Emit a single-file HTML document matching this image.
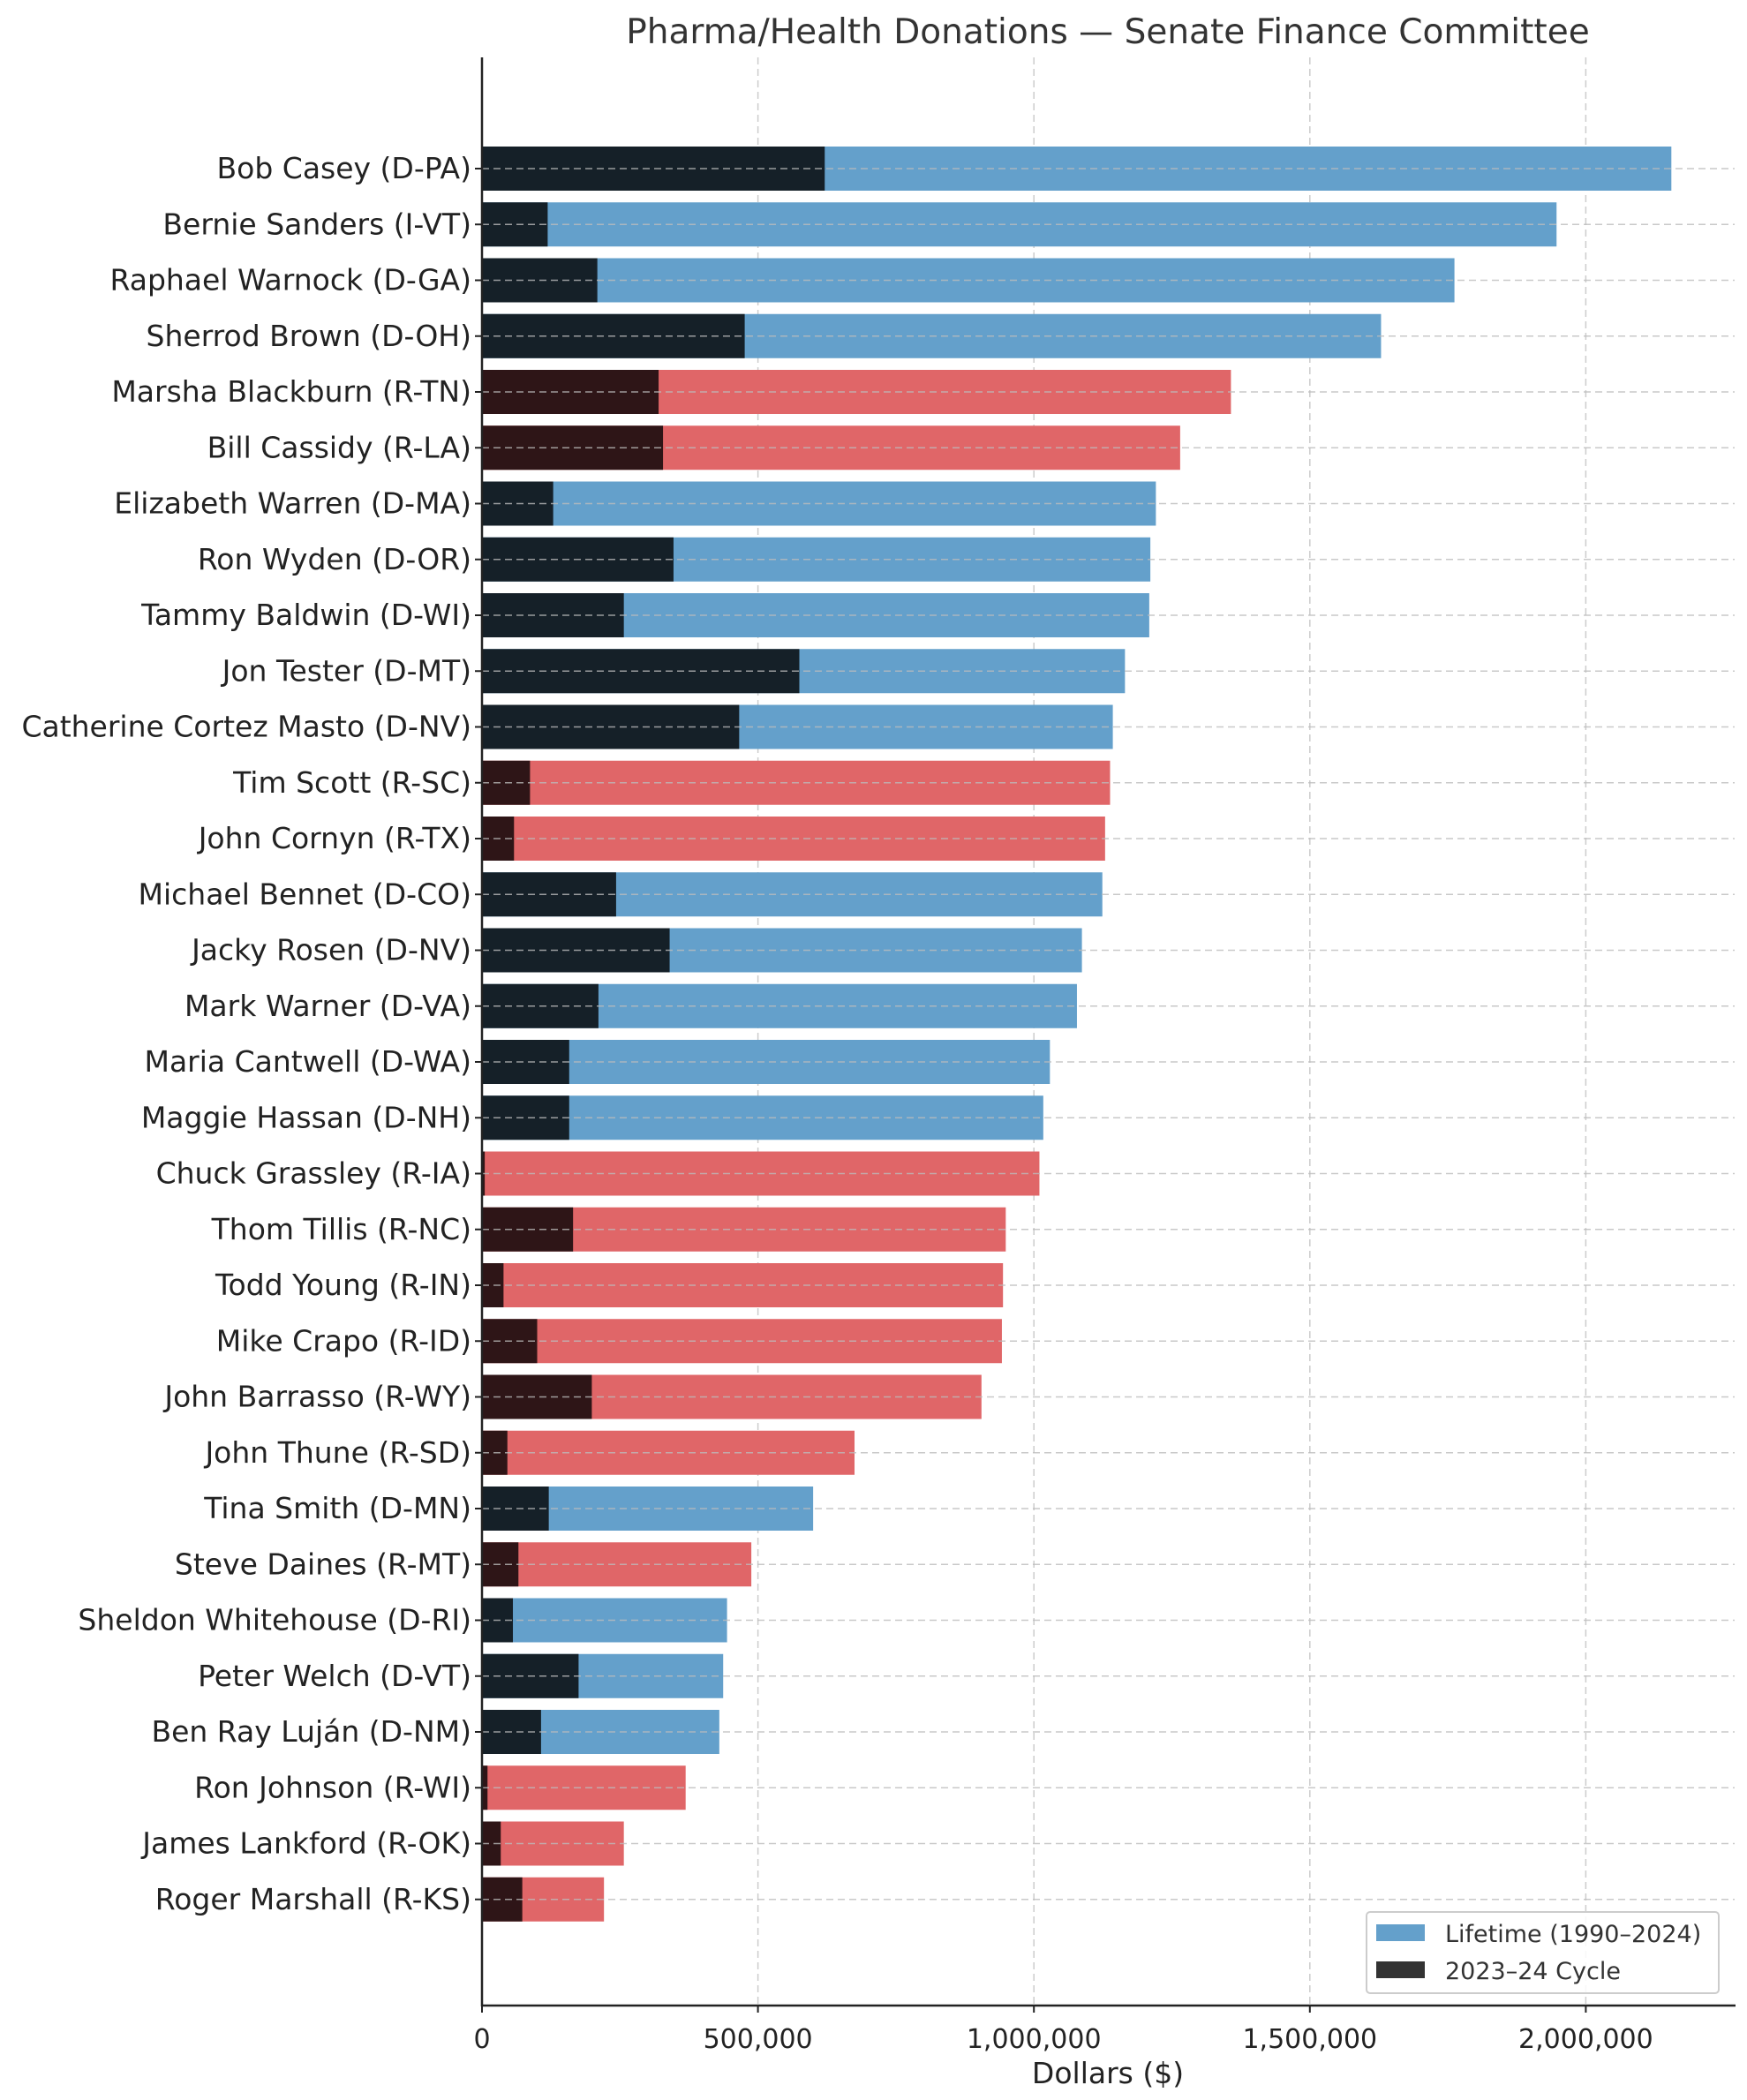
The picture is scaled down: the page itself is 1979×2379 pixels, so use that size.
<!DOCTYPE html>
<html><head><meta charset="utf-8"><style>
html,body{margin:0;padding:0;background:#fff;}
svg{display:block;font-family:"DejaVu Sans","Liberation Sans",sans-serif;}
</style></head><body>
<svg id="chart" width="1979" height="2379" viewBox="0 0 1979 2379" xmlns="http://www.w3.org/2000/svg">
<rect width="1979" height="2379" fill="#fff"/>
<text x="1255" y="49" text-anchor="middle" font-size="39" fill="#333">Pharma/Health Donations — Senate Finance Committee</text>
<g id="grid"></g>
<g id="bars"></g>
<g id="hgrid"></g>
<g id="axes"></g>
<g>
<rect x="1548" y="2166" width="399" height="92" rx="4" fill="#fff" fill-opacity="0.85" stroke="#ccc" stroke-width="2"/>
<rect x="1559" y="2180" width="55" height="19" fill="#64a0cb"/>
<text x="1637" y="2200" font-size="27" fill="#333">Lifetime (1990–2024)</text>
<rect x="1559" y="2222" width="55" height="19" fill="#333"/>
<text x="1637" y="2242" font-size="27" fill="#333">2023–24 Cycle</text>
</g>
</svg>
<script>
const names = ["Bob Casey (D-PA)","Bernie Sanders (I-VT)","Raphael Warnock (D-GA)","Sherrod Brown (D-OH)","Marsha Blackburn (R-TN)","Bill Cassidy (R-LA)","Elizabeth Warren (D-MA)","Ron Wyden (D-OR)","Tammy Baldwin (D-WI)","Jon Tester (D-MT)","Catherine Cortez Masto (D-NV)","Tim Scott (R-SC)","John Cornyn (R-TX)","Michael Bennet (D-CO)","Jacky Rosen (D-NV)","Mark Warner (D-VA)","Maria Cantwell (D-WA)","Maggie Hassan (D-NH)","Chuck Grassley (R-IA)","Thom Tillis (R-NC)","Todd Young (R-IN)","Mike Crapo (R-ID)","John Barrasso (R-WY)","John Thune (R-SD)","Tina Smith (D-MN)","Steve Daines (R-MT)","Sheldon Whitehouse (D-RI)","Peter Welch (D-VT)","Ben Ray Luján (D-NM)","Ron Johnson (R-WI)","James Lankford (R-OK)","Roger Marshall (R-KS)"];
const lifetime = [2155000,1947000,1762000,1629000,1357000,1265000,1221000,1211000,1209000,1165000,1143000,1138000,1129000,1124000,1087000,1078000,1029000,1017000,1010000,949000,944000,942000,905000,675000,600000,488000,444000,437000,430000,369000,257000,221000];
const cycle = [621000,119000,209000,476000,320000,328000,129000,347000,257000,575000,466000,87000,58000,243000,340000,211000,158000,158000,5000,165000,39000,100000,199000,46000,121000,66000,56000,175000,107000,10000,34000,73000];
const xTicks = [0,500000,1000000,1500000,2000000];
const xTickLabels = ["0","500,000","1,000,000","1,500,000","2,000,000"];

const NS="http://www.w3.org/2000/svg";
const X0=546, PXPER=312.6/500000, Y0=191, STEP=63.25, BH=50;
const xs=v=>X0+v*PXPER;
const ys=i=>Y0+i*STEP;
function mk(tag,attrs,parent){const e=document.createElementNS(NS,tag);for(const k in attrs)e.setAttribute(k,attrs[k]);parent.appendChild(e);return e;}
const grid=document.getElementById('grid'),bars=document.getElementById('bars'),hgrid=document.getElementById('hgrid'),axes=document.getElementById('axes');

xTicks.forEach((t,i)=>{
  if(t>0){const g=mk('line',{x1:xs(t),x2:xs(t),y1:65,y2:2272,stroke:'#ccc','stroke-width':1.5,'stroke-dasharray':'8,5'},grid);
  
  }
  const tk=mk('line',{x1:xs(t),x2:xs(t),y1:2272,y2:2280,stroke:'#222','stroke-width':2},axes);
  
  
  const tl=mk('text',{x:xs(t),y:2320,'text-anchor':'middle','font-size':30,fill:'#222'},axes);
  tl.textContent=xTickLabels[i];
  
  
});

names.forEach((n,i)=>{
  const rep=n.indexOf('(R-')>=0;
  const y=ys(i);
  const b=mk('rect',{x:X0,y:y-BH/2,width:xs(lifetime[i])-X0,height:BH,fill:rep?'#e06668':'#64a0cb'},bars);
  
  
  const c=mk('rect',{x:X0,y:y-BH/2,width:xs(cycle[i])-X0,height:BH,fill:rep?'#2e1517':'#152028'},bars);
  
  
  const h=mk('line',{x1:X0,x2:1965,y1:y,y2:y,stroke:'#bbb','stroke-opacity':0.8,'stroke-width':1.5,'stroke-dasharray':'8,5'},hgrid);
  
  
  const tk=mk('line',{x1:X0-8,x2:X0,y1:y,y2:y,stroke:'#222','stroke-width':2},axes);
  
  
  const l=mk('text',{x:534,y:y+11,'text-anchor':'end','font-size':33,fill:'#222'},axes);
  l.textContent=n;
  
  
});

const ly=mk('line',{x1:X0,x2:X0,y1:65,y2:2273,stroke:'#222','stroke-width':2.5},axes);


const lx=mk('line',{x1:X0-1,x2:1966,y1:2272,y2:2272,stroke:'#222','stroke-width':2.5},axes);


const xt=mk('text',{x:1255,y:2360,'text-anchor':'middle','font-size':33,fill:'#222'},axes);
xt.textContent='Dollars ($)';


</script>
</body></html>
